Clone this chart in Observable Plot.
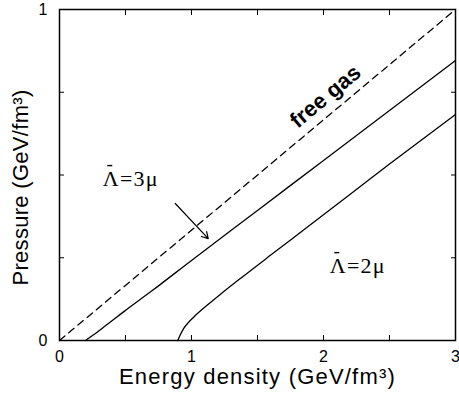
<!DOCTYPE html>
<html><head><meta charset="utf-8">
<script src="https://cdn.jsdelivr.net/npm/d3@7"></script>
<script src="https://cdn.jsdelivr.net/npm/@observablehq/plot@0.6"></script>
<style>body{margin:0;background:#fff} svg{display:block}</style>
</head><body><div id="chart"></div>
<script>
// free gas: p = e/3
const freeE = [0, 3];
const freeP = [0, 1];
// Lambda-bar = 3 mu
const lam3E = [0.197, 0.25, 0.35, 0.5, 0.7, 1.0, 1.5, 2.0, 2.5, 3.0];
const lam3P = [0, 0.015, 0.045, 0.091, 0.150, 0.242, 0.393, 0.544, 0.695, 0.846];
// Lambda-bar = 2 mu
const lam2E = [0.896, 0.91, 0.94, 0.98, 1.02, 1.12, 1.22, 1.35, 1.6, 1.876, 2.2, 2.5, 3.0];
const lam2P = [0, 0.013, 0.036, 0.056, 0.072, 0.107, 0.140, 0.181, 0.258, 0.342, 0.441, 0.533, 0.683];
const xTicks = [0, 0.5, 1, 1.5, 2, 2.5, 3];
const xTickLabels = [0, 1, 2, 3];
const yTicks = [0, 0.25, 0.5, 0.75, 1];
const yTickLabels = [0, 1];
const xLabel = "Energy density (GeV/fm³)";
const yLabel = "Pressure (GeV/fm³)";
const curveLabels = [
  {e: 2.015, p: 0.737, text: "free gas"}
];
const lamLabels = [
  {e: 0.54, p: 0.468, text: "Λ=3μ"},
  {e: 2.26, p: 0.205, text: "Λ=2μ"}
];
const arrowFrom = [0.877, 0.414];
const arrowTo = [1.127, 0.308];

const toRows = (E, P) => E.map((e, i) => ({e, p: P[i]}));

const sans = "'Liberation Sans', Arial, Helvetica, sans-serif";
const serif = "'Liberation Serif', 'Times New Roman', serif";

// horizontal bar symbol used as the macron over Λ
const barSymbol = {
  draw(context, size) {
    const r = Math.sqrt(size / Math.PI);
    context.moveTo(-r, 0);
    context.lineTo(r, 0);
  }
};

const chart = Plot.plot({
  width: 459,
  height: 397,
  marginLeft: 59,
  marginRight: 4,
  marginTop: 9,
  marginBottom: 57,
  style: {background: "#fff", color: "#000", fontFamily: sans},
  x: {domain: [0, 3], label: null},
  y: {domain: [0, 1], label: null},
  marks: [
    Plot.line(toRows(freeE, freeP), {x: "e", y: "p", stroke: "#000", strokeWidth: 1.3, strokeDasharray: "7,5"}),
    Plot.line(toRows(lam3E, lam3P), {x: "e", y: "p", stroke: "#000", strokeWidth: 1.3, curve: "monotone-x"}),
    Plot.line(toRows(lam2E, lam2P), {x: "e", y: "p", stroke: "#000", strokeWidth: 1.3, curve: "monotone-x"}),
    Plot.frame({stroke: "#000", strokeWidth: 1.5}),
    Plot.axisX(xTicks, {anchor: "bottom", tickSize: -5, text: null, strokeWidth: 1}),
    Plot.axisX(xTicks, {anchor: "top", tickSize: -5, text: null, strokeWidth: 1}),
    Plot.axisY(yTicks, {anchor: "left", tickSize: -5, text: null, strokeWidth: 1}),
    Plot.axisY(yTicks, {anchor: "right", tickSize: -5, text: null, strokeWidth: 1}),
    Plot.axisX(xTickLabels, {anchor: "bottom", tickSize: 0, tickPadding: 10, fontSize: 16, tickFormat: d => String(d)}),
    Plot.axisY(yTickLabels, {anchor: "left", tickSize: 0, tickPadding: 12, fontSize: 16, tickFormat: d => String(d)}),
    Plot.text([xLabel], {frameAnchor: "bottom", textAnchor: "middle", dy: 43, lineAnchor: "bottom", fontSize: 22, fill: "#000"}),
    Plot.text([yLabel], {frameAnchor: "left", textAnchor: "middle", dx: -32, dy: 12.5, rotate: -90, lineAnchor: "bottom", fontSize: 22, fill: "#000"}),
    Plot.text(curveLabels, {x: "e", y: "p", text: "text", rotate: -40, fontSize: 22, fontWeight: "bold", fill: "#000"}),
    Plot.text(lamLabels, {x: "e", y: "p", text: "text", lineAnchor: "bottom", fontSize: 22, fontFamily: serif, fill: "#000"}),
    Plot.dot(lamLabels, {x: "e", y: "p", dx: -21, dy: -20, r: 2.5, symbol: barSymbol, stroke: "#000", strokeWidth: 1.4, fill: "none"}),
    Plot.arrow([{x1: arrowFrom[0], y1: arrowFrom[1], x2: arrowTo[0], y2: arrowTo[1]}], {x1: "x1", y1: "y1", x2: "x2", y2: "y2", stroke: "#000", strokeWidth: 1.2, headLength: 9})
  ]
});

// letter spacing to match the wider rendering of the original
d3.select(chart).selectAll("text").each(function () {
  const t = this.textContent;
  if (t === xLabel) this.style.letterSpacing = "1.2px";
  else if (t === yLabel) this.style.letterSpacing = "0.3px";
  else if (lamLabels.some(d => d.text === t)) this.style.letterSpacing = "1.2px";
});

document.getElementById("chart").appendChild(chart);
</script>
</body></html>
